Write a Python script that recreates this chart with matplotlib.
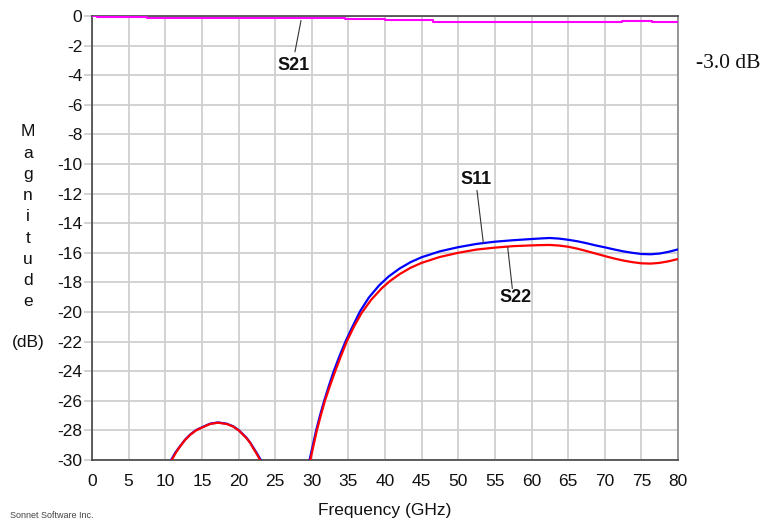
import matplotlib
matplotlib.use("Agg")
import matplotlib.pyplot as plt

plt.rcParams["axes.unicode_minus"] = False

# ---- data ----
s21_freq = [0, 0.7, 7.5, 20, 34.5, 40, 46.5, 60, 72.3, 76.5, 80]
s21_db = [0.0, -0.07, -0.11, -0.16, -0.22, -0.29, -0.38, -0.43, -0.34, -0.43, -0.43]

s11_freq = [10.0, 10.8, 11.35, 12.0, 12.7, 13.4, 14.2, 15.06, 16.1, 17.2, 18.4, 19.3, 20.07,
            21.1, 21.6, 22.05, 22.55, 23.05, 24.0, 26.5,
            29.0, 29.7, 30.15, 30.6, 31.12, 31.7, 32.33, 33.0, 33.77, 34.6, 35.55, 36.6, 37.8,
            39.2, 40.5, 42.0, 43.5, 45.0, 47.5, 50.0, 52.5, 55.0, 57.5, 60.0, 61.25, 62.5,
            63.75, 65.0, 66.25, 67.5, 68.75, 70.0, 71.25, 72.5, 73.75, 75.0, 76.25, 77.5,
            78.75, 80.0]
s11_db = [-30.9, -30.0, -29.52, -29.08, -28.63, -28.28, -27.98, -27.78, -27.55, -27.46, -27.55,
          -27.73, -28.0, -28.5, -28.83, -29.18, -29.58, -30.0, -31.0, -45.0,
          -33.0, -30.0, -29.0, -28.0, -27.0, -26.0, -25.0, -24.0, -23.0, -22.0, -21.0, -19.95,
          -19.02, -18.2, -17.6, -17.06, -16.63, -16.3, -15.9, -15.62, -15.4, -15.25, -15.15,
          -15.07, -15.03, -15.0, -15.04, -15.12, -15.22, -15.35, -15.5, -15.63, -15.77, -15.9,
          -16.0, -16.08, -16.1, -16.05, -15.93, -15.77]

s22_freq = [10.0, 10.88, 11.4, 12.0, 12.7, 13.4, 14.2, 15.06, 16.1, 17.2, 18.4, 19.3, 20.07,
            21.1, 21.6, 22.0, 22.5, 22.94, 24.0, 26.5,
            29.1, 29.8, 30.25, 30.7, 31.23, 31.8, 32.48, 33.2, 33.97, 34.77, 35.75, 36.8, 38.1,
            39.55, 40.7, 42.0, 43.5, 45.0, 47.5, 50.0, 52.5, 55.0, 57.5, 60.0, 61.25, 62.5,
            63.75, 65.0, 66.25, 67.5, 68.75, 70.0, 71.25, 72.5, 73.75, 75.0, 76.25, 77.5,
            78.75, 80.0]
s22_db = [-31.0, -30.0, -29.55, -29.1, -28.65, -28.3, -28.0, -27.8, -27.57, -27.48, -27.57,
          -27.75, -28.02, -28.53, -28.85, -29.2, -29.6, -30.0, -31.2, -45.0,
          -33.0, -30.0, -29.0, -28.0, -27.0, -26.0, -25.0, -24.0, -23.0, -22.0, -21.0, -20.07,
          -19.18, -18.4, -17.9, -17.44, -17.01, -16.68, -16.28, -16.0, -15.78, -15.65, -15.55,
          -15.5, -15.48, -15.47, -15.51, -15.59, -15.72, -15.88, -16.05, -16.22, -16.38,
          -16.52, -16.63, -16.71, -16.73, -16.68, -16.57, -16.42]

x_ticks = list(range(0, 81, 5))
y_ticks = list(range(-30, 1, 2))

FONT = "Liberation Sans"

fig = plt.figure(figsize=(7.66, 5.22), dpi=100)
ax = fig.add_axes([92/766, 1-460/522, (678-92)/766, (460-16)/522])

ax.plot(s21_freq, s21_db, color="#ff00ff", lw=1.5, drawstyle="steps-post", zorder=3)
ax.plot(s11_freq, s11_db, color="#0000ff", lw=1.6, zorder=3)
ax.plot(s22_freq, s22_db, color="#ff0000", lw=1.6, zorder=4)

ax.set_xlim(0, 80)
ax.set_ylim(-30, 0)
ax.set_xticks(x_ticks)
ax.set_yticks(y_ticks)
ax.grid(True, color="#cfcfcf", lw=1.3, zorder=0)
ax.set_axisbelow(True)

for lbl in ax.get_xticklabels() + ax.get_yticklabels():
    lbl.set_fontfamily(FONT)
    lbl.set_fontsize(12.5)
    lbl.set_color("#111111")
ax.tick_params(axis="x", length=0, pad=10)
ax.tick_params(axis="y", length=6, color="#cfcfcf", width=1.3, pad=1)

for side in ["left", "bottom", "top"]:
    ax.spines[side].set_color("#444444")
    ax.spines[side].set_linewidth(1.2)
ax.spines["right"].set_color("#888888")
ax.spines["right"].set_linewidth(1.2)

# annotations
ann_kw = dict(fontfamily=FONT, fontsize=13, fontweight="bold", ha="center", va="center", color="#111111")
ax.text(27.5, -3.35, "S21", **ann_kw)
ax.plot([28.53, 27.71], [-0.32, -2.41], color="#333333", lw=0.8, zorder=5)
ax.text(52.46, -11.08, "S11", **ann_kw)
ax.plot([52.56, 53.42], [-11.8, -15.32], color="#333333", lw=0.8, zorder=5)
ax.text(57.75, -19.05, "S22", **ann_kw)
ax.plot([56.75, 57.38], [-15.63, -18.4], color="#333333", lw=0.8, zorder=5)

# y label stacked letters
letters = "Magnitude"
ys = [131.7, 153, 175, 195.5, 216.7, 238, 260, 280.5, 302]
for ch, yp in zip(letters, ys):
    fig.text(28/766, 1-yp/522, ch, fontfamily=FONT, fontsize=12.5, ha="center", va="center", color="#111111")
fig.text(28/766, 1-343/522, "(dB)", fontfamily=FONT, fontsize=12.5, ha="center", va="center", color="#111111")

fig.text(385/766, 1-511/522, "Frequency (GHz)", fontfamily=FONT, fontsize=12.5, ha="center", va="center", color="#111111")
fig.text(10/766, 1-516/522, "Sonnet Software Inc.", fontfamily=FONT, fontsize=6.5, ha="left", va="center", color="#444444")
fig.text(696/766, 1-64/522, "-3.0 dB", fontfamily="Liberation Serif", fontsize=15.5, ha="left", va="center", color="#111111")

fig.savefig("out.png", dpi=100)
